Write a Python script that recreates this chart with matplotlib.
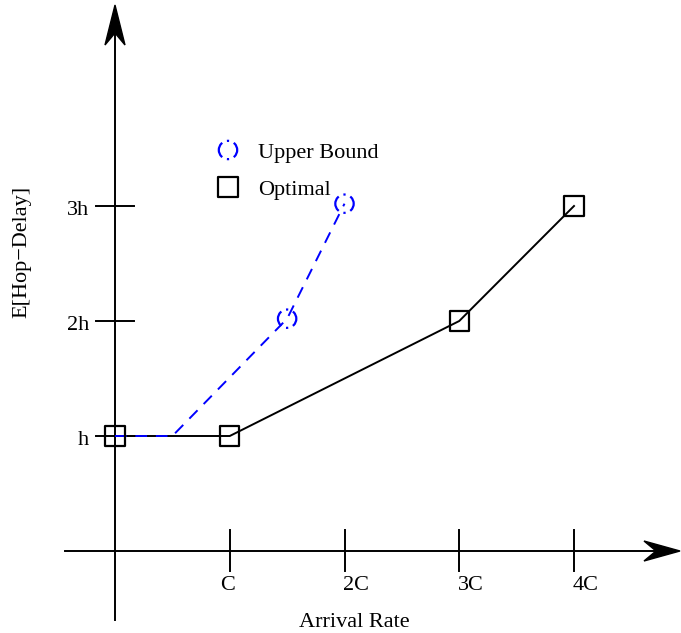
import matplotlib
matplotlib.use("Agg")
import matplotlib.pyplot as plt
from matplotlib.patches import Polygon

plt.rcParams['font.family'] = ['Liberation Serif', 'DejaVu Serif']

# data
upper_x = [0.0, 0.5, 1.5, 2.0]
upper_y = [1.0, 1.0, 2.02, 3.02]
upper_mark_x = [1.5, 2.0]
upper_mark_y = [2.02, 3.02]
opt_x = [0.0, 1.0, 3.0, 4.0]
opt_y = [1.0, 1.0, 2.0, 3.0]
xtick_vals = [1, 2, 3, 4]
xtick_labels = ['C', '2C', '3C', '4C']
ytick_vals = [1, 2, 3]
ytick_labels = ['h', '2h', '3h']

W, H, DPI = 6.81, 6.33, 100
FS = 16
fig = plt.figure(figsize=(W, H), dpi=DPI)
ax = fig.add_axes([0, 0, 1, 1])
ax.axis('off')

# pixel mapping: x_px = 115 + 114.75*x ; y_px(from top) = 551 - 115*y
sx, sy = 114.75, 115.0
ax.set_xlim(-115 / sx, (681 - 115) / sx)
ax.set_ylim((551 - 633) / sy, 551 / sy)

def px(dx):
    return dx / sx

def py(dy):
    return dy / sy

LW = 1.4
# axes lines
tipx = (680 - 115) / sx
tipy = (551 - 5) / sy
ax.plot([(65 - 115) / sx, tipx - px(24)], [0, 0], color='black', lw=LW, zorder=2)
ax.plot([0, 0], [(551 - 620) / sy, tipy - py(28)], color='black', lw=LW, zorder=2)

# arrowheads (notched)
ax.add_patch(Polygon([[tipx, 0], [tipx - px(36), py(10)], [tipx - px(24), 0],
                      [tipx - px(36), -py(10)]], closed=True, color='black', zorder=3))
ax.add_patch(Polygon([[0, tipy], [px(10), tipy - py(40)], [0, tipy - py(28)],
                      [-px(10), tipy - py(40)]], closed=True, color='black', zorder=3))

# ticks
for xv, lab in zip(xtick_vals, xtick_labels):
    ax.plot([xv, xv], [py(21), -py(20)], color='black', lw=LW, zorder=2)
    if len(lab) == 1:
        ax.text(xv - px(2), -py(590 - 551), lab, ha='center', va='baseline', fontsize=FS)
    else:
        ax.text(xv - px(1), -py(590 - 551), lab, ha='left', va='baseline', fontsize=FS)
for yv, lab in zip(ytick_vals, ytick_labels):
    ax.plot([-px(19), px(19)], [yv, yv], color='black', lw=LW, zorder=2)
    ax.text(-px(115 - 89), yv - py(9), lab, ha='right', va='baseline', fontsize=FS)

# axis labels
ax.text(px(354 - 115), -py(627 - 551), 'Arrival Rate', ha='center', va='baseline', fontsize=FS)
ax.text(-px(115 - 22), py(551 - 252), 'E[Hop\u2212Delay]', ha='center', va='center',
        rotation=90, fontsize=FS)

# circle marker style (dash-dot outline: arcs left/right, dots top/bottom)
circ_ls = (10.2, (7.4, 2.3, 1, 2.3))

# series
ax.plot(opt_x, opt_y, color='black', lw=LW, zorder=4)
ax.scatter(opt_x, opt_y, marker='s', s=195, facecolors='none', edgecolors='black',
           linewidths=1.6, zorder=5)
ax.plot(upper_x, upper_y, color='blue', lw=LW, dashes=(6, 4.5), zorder=4)
ax.scatter(upper_mark_x, upper_mark_y, marker='o', s=175, facecolors='none',
           edgecolors='blue', linewidths=1.6, linestyles=[circ_ls], zorder=5)

# legend
lx = px(228 - 115)
ax.scatter([lx], [py(551 - 150)], marker='o', s=175, facecolors='none', edgecolors='blue',
           linewidths=1.6, linestyles=[circ_ls], zorder=5)
ax.text(px(258 - 115), py(551 - 158), 'Upper Bound', ha='left', va='baseline', fontsize=FS)
ax.scatter([lx], [py(551 - 187)], marker='s', s=195, facecolors='none', edgecolors='black',
           linewidths=1.6, zorder=5)
ax.text(px(258 - 115), py(551 - 195), 'Optimal', ha='left', va='baseline', fontsize=FS)

fig.savefig('out.png', dpi=DPI)
